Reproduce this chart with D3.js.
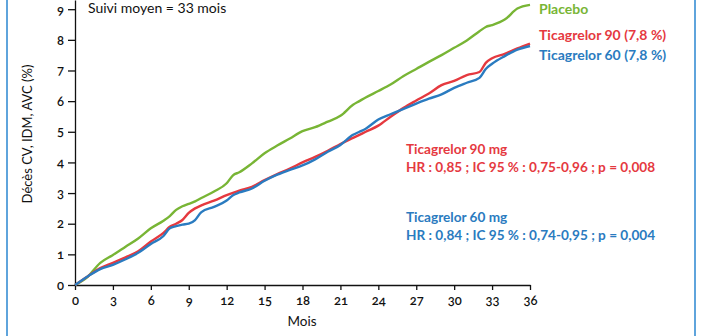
<!DOCTYPE html>
<html>
<head>
<meta charset="utf-8">
<script src="https://cdn.jsdelivr.net/npm/d3@7"></script>
<style>
  body { margin: 0; background: #fff; }
  svg text { font-family: Lato, "Open Sans", sans-serif; }
  .axis text { font-size: 13px; font-weight: 600; fill: #111; font-variant-numeric: oldstyle-nums; }
  .axis path, .axis line { stroke: #111; stroke-width: 1.3; }
</style>
</head>
<body>
<div id="chart"></div>
<script>
/* Décès CV, IDM, AVC - courbes cumulées */
var months = [0, 1, 2, 3, 4, 5, 6, 7, 7.5, 8, 8.5, 9, 9.5, 10, 11, 12, 12.5, 13, 14, 15, 16, 17, 18, 19, 20, 21, 22, 22.5, 23, 24, 25, 26, 27, 28, 29, 30, 31, 32, 32.5, 33, 34, 35, 36];

var placebo = [0, 0.27, 0.72, 0.98, 1.25, 1.52, 1.85, 2.1, 2.25, 2.45, 2.57, 2.65, 2.73, 2.84, 3.05, 3.32, 3.58, 3.68, 3.97, 4.3, 4.55, 4.78, 5.02, 5.15, 5.33, 5.52, 5.88, 6.0, 6.12, 6.33, 6.55, 6.82, 7.05, 7.28, 7.5, 7.74, 7.98, 8.28, 8.42, 8.48, 8.66, 9.02, 9.14];

var tica90 = [0, 0.28, 0.55, 0.72, 0.9, 1.1, 1.42, 1.7, 1.9, 2.0, 2.12, 2.35, 2.5, 2.6, 2.75, 2.93, 3.01, 3.08, 3.2, 3.42, 3.62, 3.8, 4.0, 4.18, 4.38, 4.6, 4.8, 4.9, 5.0, 5.2, 5.5, 5.78, 6.02, 6.25, 6.52, 6.66, 6.85, 6.95, 7.25, 7.4, 7.54, 7.72, 7.88];

var tica60 = [0, 0.28, 0.52, 0.66, 0.84, 1.05, 1.34, 1.6, 1.85, 1.92, 1.97, 2.0, 2.12, 2.38, 2.55, 2.76, 2.93, 3.02, 3.15, 3.4, 3.6, 3.76, 3.9, 4.1, 4.35, 4.57, 4.9, 5.0, 5.1, 5.4, 5.58, 5.75, 5.92, 6.08, 6.22, 6.43, 6.6, 6.76, 7.05, 7.22, 7.47, 7.68, 7.8];

var xTicks = [0, 3, 6, 9, 12, 15, 18, 21, 24, 27, 30, 33, 36];
var yTicks = [0, 1, 2, 3, 4, 5, 6, 7, 8, 9];

var seriesNames = ["Placebo", "Ticagrelor 90 (7,8 %)", "Ticagrelor 60 (7,8 %)"];
var seriesColors = ["#78b535", "#e5393f", "#2a7bc0"];

function plotChart() {
    var width = 702,
        height = 336;

    var svg = d3.select("#chart").append("svg")
        .attr("width", width)
        .attr("height", height);

    // bordures bleues
    svg.append("line").attr("x1", 7).attr("x2", 7).attr("y1", 0).attr("y2", height)
        .attr("stroke", "#5fa4dc").attr("stroke-width", 2);
    svg.append("line").attr("x1", 695).attr("x2", 695).attr("y1", 0).attr("y2", height)
        .attr("stroke", "#5fa4dc").attr("stroke-width", 2);

    var x = d3.scaleLinear()
        .domain([0, 36])
        .range([75, 530]);

    var y = d3.scaleLinear()
        .domain([0, 9.3])
        .range([285, 0]);

    svg.append("g")
        .attr("class", "axis axis--x")
        .attr("transform", "translate(0," + y(0) + ")")
        .call(d3.axisBottom(x).tickValues(xTicks).tickSize(5).tickSizeOuter(0).tickPadding(6));

    svg.append("g")
        .attr("class", "axis axis--y")
        .attr("transform", "translate(" + x(0) + ",0)")
        .call(d3.axisLeft(y).tickValues(yTicks).tickSize(7).tickSizeOuter(0).tickPadding(4));

    svg.append("text")
        .attr("transform", "translate(32," + 134 + ") rotate(-90)")
        .attr("text-anchor", "middle")
        .style("font-size", "13px")
        .attr("fill", "#111")
        .text("Décès CV, IDM, AVC (%)");

    svg.append("text")
        .attr("x", 302)
        .attr("y", 326)
        .attr("text-anchor", "middle")
        .style("font-size", "13.5px")
        .attr("fill", "#111")
        .text("Mois");

    svg.append("text")
        .attr("x", 88)
        .attr("y", 13)
        .style("font-size", "14px")
        .attr("fill", "#111")
        .text("Suivi moyen = 33 mois");

    var line = d3.line()
        .x(function(d, i) {
            return x(months[i]);
        })
        .y(function(d) {
            return y(d);
        })
        .curve(d3.curveMonotoneX);

    var series = [placebo, tica90, tica60];

    svg.selectAll(".serie")
        .data(series)
        .enter().append("path")
        .attr("class", "serie")
        .attr("fill", "none")
        .attr("stroke-width", 2.4)
        .attr("stroke-linejoin", "round")
        .attr("stroke", function(d, i) {
            return seriesColors[i];
        })
        .attr("d", line);

    var legendY = [14, 40, 60];
    svg.selectAll(".legend")
        .data(seriesNames)
        .enter().append("text")
        .attr("class", "legend")
        .attr("x", 539)
        .attr("y", function(d, i) {
            return legendY[i];
        })
        .style("font-size", "14px")
        .style("font-weight", "700")
        .attr("fill", function(d, i) {
            return seriesColors[i];
        })
        .text(function(d) {
            return d;
        });

    var notes = [
        { text: "Ticagrelor 90 mg", y: 154, color: seriesColors[1] },
        { text: "HR : 0,85 ; IC 95 % : 0,75-0,96 ; p = 0,008", y: 172, color: seriesColors[1] },
        { text: "Ticagrelor 60 mg", y: 222, color: seriesColors[2] },
        { text: "HR : 0,84 ; IC 95 % : 0,74-0,95 ; p = 0,004", y: 240, color: seriesColors[2] }
    ];

    svg.selectAll(".note")
        .data(notes)
        .enter().append("text")
        .attr("class", "note")
        .attr("x", 406)
        .attr("y", function(d) {
            return d.y;
        })
        .style("font-size", "13.6px")
        .style("font-weight", "700")
        .attr("fill", function(d) {
            return d.color;
        })
        .text(function(d) {
            return d.text;
        });
}

plotChart();
</script>
</body>
</html>
